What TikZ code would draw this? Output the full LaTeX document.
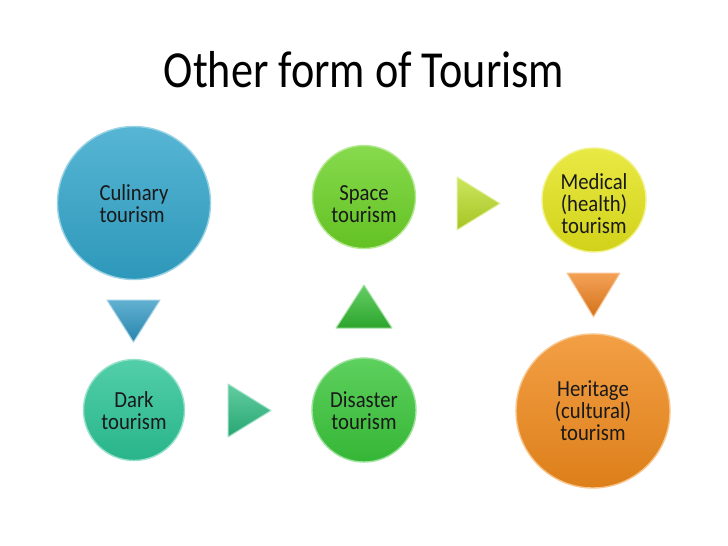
\documentclass[tikz,border=0pt]{standalone}
\usepackage{fontspec}
\setmainfont{Carlito}
\definecolor{cCul}{RGB}{50,165,202}
\definecolor{cDark}{RGB}{44,196,150}
\definecolor{cDis}{RGB}{58,198,58}
\definecolor{cSpa}{RGB}{108,210,38}
\definecolor{cMed}{RGB}{228,228,28}
\definecolor{cHer}{RGB}{240,138,28}
\definecolor{tBlue}{RGB}{45,150,195}
\definecolor{tTeal}{RGB}{45,188,130}
\definecolor{tGreen}{RGB}{50,188,50}
\definecolor{tLime}{RGB}{188,222,40}
\definecolor{tOrange}{RGB}{240,130,30}
\definecolor{txt}{RGB}{25,25,25}
\begin{document}
\begin{tikzpicture}[x=1pt,y=-1pt,
  bubble/.style={circle, inner sep=0pt, minimum size=#1, line width=1.4pt},
  fillc/.style={top color=#1!82!white, bottom color=#1!92!black, draw=#1!50!white},
  lbl/.style={font=\fontsize{23}{22}\selectfont, text=txt, xscale=0.9},
  arrowtri/.style={top color=#1!75!white, bottom color=#1!88!black, draw=#1!45!white, line width=1pt, line join=round}
]
\useasboundingbox[fill=white] (0,0) rectangle (728,546);
% title
\node[font=\fontsize{52}{60}\selectfont, xscale=0.85, anchor=base, text=black] (title) at (364,87) {Other form of Tourism};
% circles
\node[bubble=153, fillc=cCul] (cul) at (134,203) {};
\node[bubble=101, fillc=cDark] (dark) at (134,410) {};
\node[bubble=104, fillc=cDis] (dis) at (364,410) {};
\node[bubble=103, fillc=cSpa] (spa) at (364,197) {};
\node[bubble=104, fillc=cMed] (med) at (594,200) {};
\node[bubble=154, fillc=cHer] (her) at (593,411) {};
% labels
\node[lbl, align=left] (culT) at (134,204) {Culinary\\tourism};
\node[lbl, align=center] (spaT) at (364,204) {Space\\tourism};
\node[lbl, align=center] (medT) at (594,204) {Medical\\(health)\\tourism};
\node[lbl, align=center] (darkT) at (134,411) {Dark\\tourism};
\node[lbl, align=center] (disT) at (364,411) {Disaster\\tourism};
\node[lbl, align=center] (herT) at (593,411) {Heritage\\(cultural)\\tourism};
% triangle arrows
\path[arrowtri=tBlue] (107,300) -- (160,300) -- (133.5,342) -- cycle;
\path[arrowtri=tTeal] (228,384) -- (228,437) -- (271,410.5) -- cycle;
\path[arrowtri=tGreen] (336,328) -- (392,328) -- (364,285) -- cycle;
\path[arrowtri=tLime] (457,177) -- (457,230) -- (500,203.5) -- cycle;
\path[arrowtri=tOrange] (567,273) -- (620,273) -- (593.5,317) -- cycle;
\end{tikzpicture}
\end{document}
